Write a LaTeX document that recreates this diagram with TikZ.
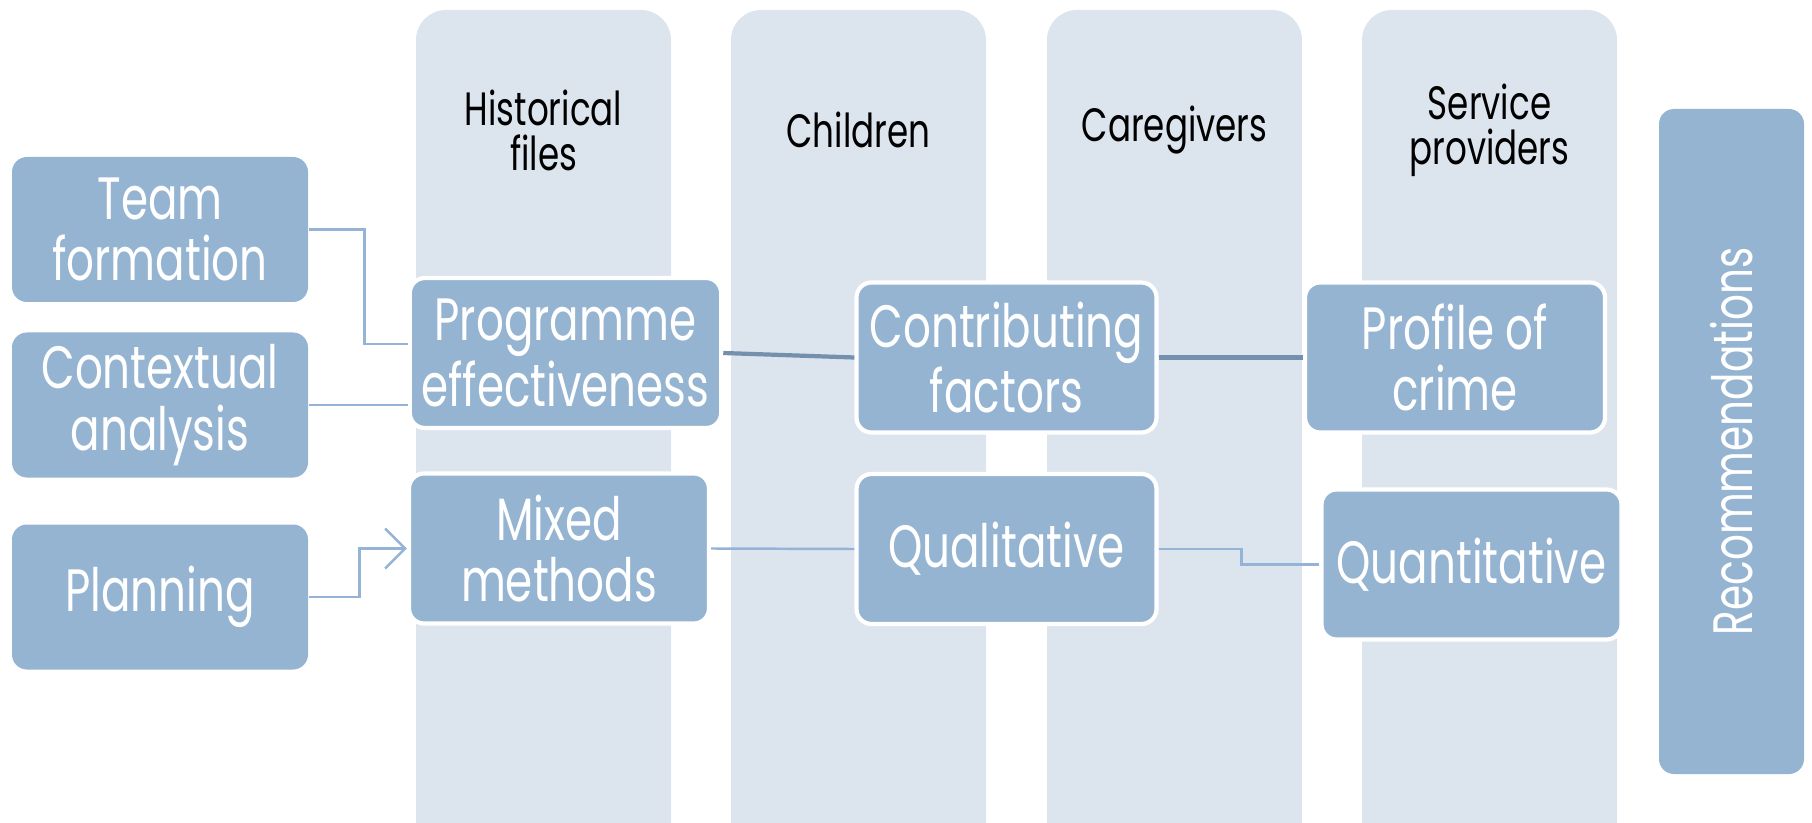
\documentclass[tikz,border=0pt]{standalone}
\usepackage{fontspec}
\setmainfont{Poppins}[FakeStretch=0.73]
\usetikzlibrary{arrows.meta}
\definecolor{laneblue}{HTML}{DCE4EE}
\definecolor{boxblue}{HTML}{95B4D2}
\definecolor{linkblue}{HTML}{95B3D7}
\definecolor{darklink}{HTML}{7590AD}
\tikzset{
  lane/.style={fill=laneblue, rounded corners=0.3cm},
  lanetitle/.style={align=center, font=\fontsize{13.3}{12.8}\selectfont, text=black},
  phase/.style={fill=boxblue, rounded corners=0.15cm, minimum width=2.96cm,
    minimum height=1.45cm, align=center, text=white,
    font=\fontsize{17}{17.5}\selectfont},
  stepbox/.style={phase, draw=white, line width=1.2pt, minimum width=3cm,
    minimum height=1.5cm},
  link/.style={draw=linkblue, line width=0.7pt},
  strong/.style={draw=darklink, line width=1.2pt},
}
\begin{document}
\begin{tikzpicture}
  \useasboundingbox (0,0) rectangle (18.12,-8.23);
  \clip (0,0) rectangle (18.12,-8.23);
  % lanes
  \foreach \x/\name in {4.16/{Historical\\files}, 7.31/Children,
      10.47/Caregivers, 13.62/{Service\\providers}} {
    \fill[lane] (\x,-0.10) rectangle ++(2.55,-9);
    \node[lanetitle] at (\x+1.275,-1.30) {\name};
  }
  % phases on the left
  \node[phase] (team) at (1.60,-2.295) {Team\\formation};
  \node[phase] (context) at (1.60,-4.05) {Contextual\\analysis};
  \node[phase] (plan) at (1.60,-5.97) {Planning};
  % steps in the lanes
  \node[stepbox] (prog) at (5.655,-3.53) {Programme\\effectiveness};
  \node[stepbox] (mixed) at (5.59,-5.485) {Mixed\\methods};
  \node[stepbox] (contrib) at (10.065,-3.575) {Contributing\\factors};
  \node[stepbox] (quali) at (10.065,-5.49) {Qualitative};
  \node[stepbox] (profile) at (14.55,-3.575) {Profile of\\crime};
  \node[stepbox] (quanti) at (14.715,-5.645) {Quantitative};
  \node[phase, minimum width=6.65cm, rotate=90, font=\fontsize{15.8}{16}\selectfont]
    (recom) at (17.315,-4.415) {Recommendations};
  % connectors
  \draw[link] (team.east) -- ++(0.56,0) |- ([yshift=0.9mm]prog.west);
  \draw[link] (context.east) -- (context.east -| prog.west);
  \draw[link, -{Straight Barb[length=2mm,width=4mm]}] (plan.east) -- ++(0.51,0) |- (mixed.west);
  \draw[strong] (prog.east) -- (contrib.west);
  \draw[strong] (contrib.east) -- (profile.west);
  \draw[link] (mixed.east) -- (quali.west);
  \draw[link] (quali.east) -- ++(0.83,0) |- (quanti.west);
\end{tikzpicture}
\end{document}
